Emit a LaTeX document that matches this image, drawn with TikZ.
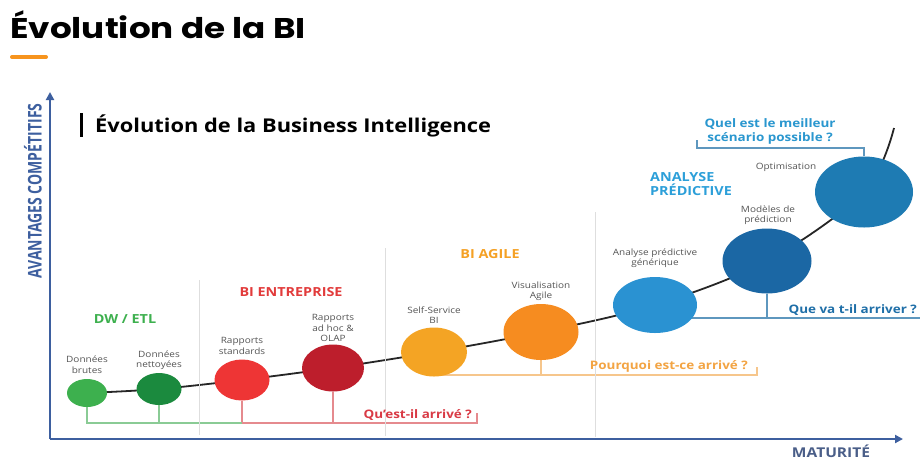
\documentclass[tikz,border=0pt]{standalone}
\usepackage{fontspec}
\setmainfont{Open Sans}[FakeStretch=1.15]
\newfontfamily\plainsans{Open Sans}
\newfontfamily\titlefont{Poppins}[FakeStretch=1.2]
\usetikzlibrary{shapes.geometric,arrows.meta}
\pgfdeclarelayer{bg}
\pgfsetlayers{bg,main}
\definecolor{axisblue}{HTML}{3D5F9F}
\definecolor{gA}{HTML}{3DB04E}
\definecolor{gB}{HTML}{1B8A3E}
\definecolor{rA}{HTML}{EE3535}
\definecolor{rB}{HTML}{BD1E2C}
\definecolor{oA}{HTML}{F4A424}
\definecolor{oB}{HTML}{F68C20}
\definecolor{bA}{HTML}{2A92D2}
\definecolor{bB}{HTML}{1B67A4}
\definecolor{bC}{HTML}{1E7BB3}
\definecolor{lblgray}{HTML}{555555}
\definecolor{sepgray}{HTML}{DEDEDE}
\definecolor{gLine}{HTML}{8ACB95}
\definecolor{rLine}{HTML}{E58A8E}
\definecolor{oLine}{HTML}{F6C68C}
\definecolor{bLine}{HTML}{5E97BE}
\definecolor{catgreen}{HTML}{3DB04E}
\definecolor{catred}{HTML}{E23B3B}
\definecolor{catorange}{HTML}{F5A124}
\definecolor{catblue}{HTML}{2C9FD9}
\definecolor{qblue}{HTML}{2A97CF}
\definecolor{qdblue}{HTML}{1F6FA8}
\definecolor{qorange}{HTML}{F3A443}
\definecolor{qred}{HTML}{D93A45}
\definecolor{titleorange}{HTML}{F7941D}
\definecolor{matgray}{HTML}{4A5E88}
\tikzset{
  blob/.style={ellipse, inner sep=0pt, draw=none},
  lbl/.style={inner sep=0pt, align=center, text=lblgray, font=\fontsize{8.7}{10.5}\selectfont},
  cat/.style={inner sep=0pt, align=left, font=\bfseries\fontsize{12.5}{14}\selectfont},
  quest/.style={inner sep=0pt, align=center, font=\bfseries\fontsize{11.7}{14}\selectfont},
  axisline/.style={line width=2.6pt, draw=axisblue, -{Triangle[length=8pt,width=8pt]}},
  sepline/.style={line width=0.6pt, draw=sepgray},
  brk/.style={line width=1.1pt},
  curveline/.style={line width=1.8pt, draw=black!85}
}
\begin{document}
\begin{tikzpicture}[x=1pt,y=-1pt]
\begin{pgfonlayer}{bg}
\fill[white] (0,0) rectangle (920,459);
\end{pgfonlayer}
\useasboundingbox (0,0) rectangle (920,459);

% title
\node[anchor=base west, inner sep=0pt] (title) at (10,38)
  {\titlefont\bfseries\fontsize{28.5}{28}\selectfont Évolution de la BI};
\draw[line width=4pt, draw=titleorange, line cap=round] (12,57) -- (46,57);

% subtitle
\draw[line width=3pt] (81,113) -- (81,137);
\node[anchor=base west, inner sep=0pt, font=\bfseries\fontsize{19}{21}\selectfont] (sub) at (95,132)
  {Évolution de la Business Intelligence};

% axes
\coordinate (O) at (50,439);
\coordinate (ytop) at (50,92);
\coordinate (xend) at (903,439);
\draw[axisline] (O) -- (ytop);
\draw[axisline] (O) -- (xend);
\node[inner sep=0pt, text=axisblue, rotate=90] (yl) at (33,191)
  {\scalebox{1}[1.35]{\plainsans\bfseries\fontsize{14}{15}\selectfont AVANTAGES COMPÉTITIFS}};
\node[inner sep=0pt, anchor=base, text=matgray, font=\bfseries\fontsize{13.5}{15}\selectfont] (xl) at (831,457) {MATURITÉ};

% separators
\draw[sepline] (199,280) -- (199,435);
\draw[sepline] (385,248) -- (385,436);
\draw[sepline] (595,212) -- (595,437);

% circles
\node[blob, fill=gA, minimum width=40pt, minimum height=28pt] (n1) at (87,393) {};
\node[blob, fill=gB, minimum width=45pt, minimum height=32pt] (n2) at (159,389) {};
\node[blob, fill=rA, minimum width=55pt, minimum height=41pt] (n3) at (242,380) {};
\node[blob, fill=rB, minimum width=62pt, minimum height=47pt] (n4) at (333,368) {};
\node[blob, fill=oA, minimum width=66pt, minimum height=49pt] (n5) at (434,352) {};
\node[blob, fill=oB, minimum width=75pt, minimum height=56pt] (n6) at (541,332) {};
\node[blob, fill=bA, minimum width=84pt, minimum height=56pt] (n7) at (655,305) {};
\node[blob, fill=bB, minimum width=89pt, minimum height=65pt] (n8) at (767,261) {};
\node[blob, fill=bC, minimum width=98pt, minimum height=71pt] (n9) at (864,192) {};
\coordinate (cend) at (894,128);

% curve and brackets in background
\begin{pgfonlayer}{bg}
\draw[curveline] plot[smooth, tension=0.55] coordinates
  {(n1.center) (n2.center) (n3.center) (n4.center) (n5.center) (n6.center) (n7.center) (n8.center) (n9.center) (cend)};
\coordinate (qA) at (477,423);
\coordinate (qAt) at (477,413);
\draw[brk, draw=rLine] (n3.south) |- (qA) -- (qAt);
\draw[brk, draw=rLine] (n4.south) -- (n4.south |- qA);
\draw[brk, draw=gLine] (n1.south) |- (n3.south |- qA);
\draw[brk, draw=gLine] (n2.south) -- (n2.south |- qA);
\coordinate (pA) at (757,375);
\coordinate (pAt) at (757,367);
\draw[brk, draw=oLine] (n5.center) |- (pA) -- (pAt);
\draw[brk, draw=oLine] (n6.south) -- (n6.south |- pA);
\coordinate (vA) at (920,318);
\draw[brk, draw=bLine] (n7.center) |- (vA);
\draw[brk, draw=bLine] (n8.south) -- (n8.south |- vA);
\coordinate (tA) at (697,148);
\coordinate (tAt) at (697,140);
\draw[brk, draw=bLine] (n9.north) |- (tA) -- (tAt);
\end{pgfonlayer}

% circle labels
\node[lbl] (l1) at (87,364.5) {Données\\brutes};
\node[lbl] (l2) at (159,360) {Données\\nettoyées};
\node[lbl] (l3) at (242,346) {Rapports\\standards};
\node[lbl] (l4) at (333,328) {Rapports\\ad hoc \&\\OLAP};
\node[lbl] (l5) at (434,315) {Self-Service\\BI};
\node[lbl] (l6) at (541,291) {Visualisation\\Agile};
\node[lbl] (l7) at (655,258) {Analyse prédictive\\générique};
\node[lbl] (l8) at (768,215) {Modèles de\\prédiction};
\node[lbl] (l9) at (786,167) {Optimisation};

% categories
\node[cat, text=catgreen] (c1) at (125,319) {DW / ETL};
\node[cat, text=catred] (c2) at (291,292) {BI ENTREPRISE};
\node[cat, text=catorange] (c3) at (490,254) {BI AGILE};
\node[cat, text=catblue, anchor=west] (c4) at (650,184.5) {ANALYSE\\PRÉDICTIVE};

% questions
\node[quest, text=qblue] (q1) at (770,131) {Quel est le meilleur\\scénario possible ?};
\node[quest, text=qdblue, anchor=east] (q2) at (917,310) {Que va t-il arriver ?};
\node[quest, text=qorange, anchor=east] (q3) at (748,366) {Pourquoi est-ce arrivé ?};
\node[quest, text=qred, anchor=east] (q4) at (472,415) {Qu’est-il arrivé ?};
\end{tikzpicture}
\end{document}
